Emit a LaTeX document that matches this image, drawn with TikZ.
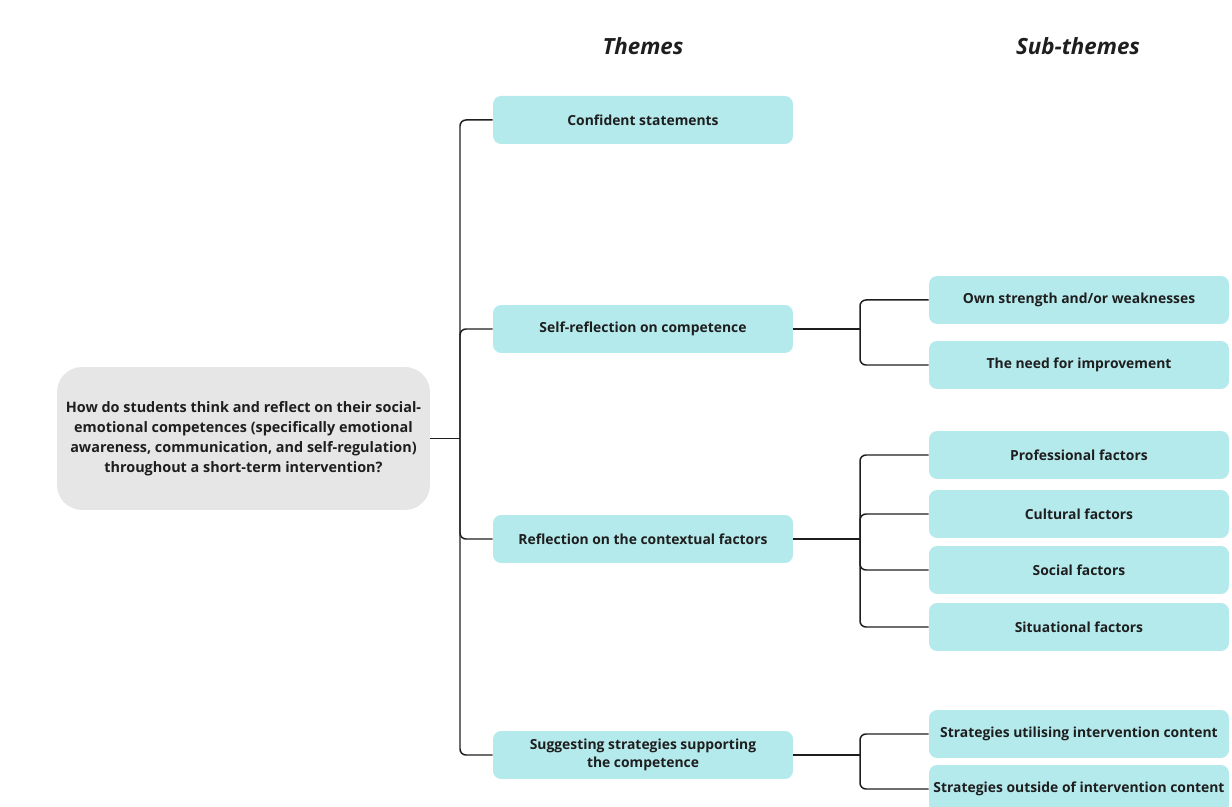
\documentclass[tikz,border=0pt]{standalone}
\usepackage{fontspec}
\setmainfont{Open Sans}
\usepackage{tikz}
\usetikzlibrary{calc,positioning}

\definecolor{themefill}{RGB}{181,234,237}
\definecolor{qfill}{RGB}{230,230,230}
\definecolor{inkline}{RGB}{30,30,30}

\begin{document}
\begin{tikzpicture}[
    x=0.02cm, y=-0.02cm,
    block/.style={
      rectangle,
      fill=themefill,
      text=inkline,
      font=\fontsize{7.9}{10.5}\selectfont\bfseries,
      align=center,
      inner xsep=1pt,
      rounded corners=0.16cm,
      minimum width=6cm,
      minimum height=0.96cm
    },
    question/.style={
      rectangle,
      fill=qfill,
      text=inkline,
      font=\fontsize{8.2}{11.3}\selectfont\bfseries,
      align=center,
      inner xsep=2pt,
      rounded corners=0.5cm,
      minimum width=7.46cm,
      minimum height=2.86cm
    },
    heading/.style={
      text=inkline,
      font=\fontsize{12.7}{15}\selectfont\bfseries\itshape
    },
    link/.style={
      draw=inkline,
      line width=0.85pt,
      rounded corners=0.12cm
    }
]

\useasboundingbox (0,0) rectangle (1232,807);

%% Headings
\node [heading] (themes) at (643,46) {Themes};
\node [heading] (subthemes) at (1078,46) {Sub-themes};

%% Research question
\node [question] (rq) at (243.5,438.5) {How do students think and reflect on their social-\\emotional competences (specifically emotional\\awareness, communication, and self-regulation)\\throughout a short-term intervention?};

%% Themes
\node [block] (confident) at (643,120) {Confident statements};
\node [block] (selfrefl) at (643,329) {Self-reflection on competence};
\node [block] (context) at (643,539) {Reflection on the contextual factors};
\node [block] (suggest) at (643,755) {Suggesting strategies supporting\\the competence};

%% Sub-themes
\node [block] (strength) at (1079,300) {Own strength and/or weaknesses};
\node [block] (improve) at (1079,365) {The need for improvement};
\node [block] (profess) at (1079,455) {Professional factors};
\node [block] (cultural) at (1079,514) {Cultural factors};
\node [block] (social) at (1079,570) {Social factors};
\node [block] (situat) at (1079,627) {Situational factors};
\node [block] (utilise) at (1079,734) {Strategies utilising intervention content};
\node [block] (outside) at (1079,789) {Strategies outside of intervention content};

%% Hubs
\coordinate (hubrq) at (460,438.5);
\coordinate (hubself) at (860,329);
\coordinate (hubctx) at (860,539);
\coordinate (hubsug) at (860,755);

%% Links
\draw [link] (rq.east) -- (hubrq);
\draw [link] (hubrq) |- (confident.west);
\draw [link] (hubrq) |- (selfrefl.west);
\draw [link] (hubrq) |- (context.west);
\draw [link] (hubrq) |- (suggest.west);

\draw [link] (selfrefl.east) -- (hubself);
\draw [link] (hubself) |- (strength.west);
\draw [link] (hubself) |- (improve.west);

\draw [link] (context.east) -- (hubctx);
\draw [link] (hubctx) |- (profess.west);
\draw [link] (hubctx) |- (cultural.west);
\draw [link] (hubctx) |- (social.west);
\draw [link] (hubctx) |- (situat.west);

\draw [link] (suggest.east) -- (hubsug);
\draw [link] (hubsug) |- (utilise.west);
\draw [link] (hubsug) |- (outside.west);

\end{tikzpicture}
\end{document}
